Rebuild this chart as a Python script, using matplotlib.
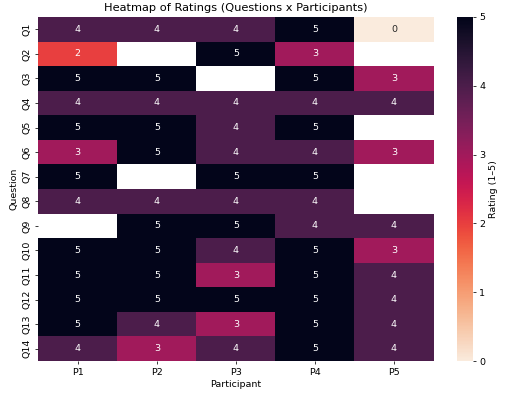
import numpy as np
import pandas as pd
import matplotlib
matplotlib.use("Agg")
import matplotlib.pyplot as plt
import seaborn as sns

questions = [f"Q{i}" for i in range(1, 15)]
participants = ["P1", "P2", "P3", "P4", "P5"]
nan = np.nan
p1 = [4, 2, 5, 4, 5, 3, 5, 4, nan, 5, 5, 5, 5, 4]
p2 = [4, nan, 5, 4, 5, 5, nan, 4, 5, 5, 5, 5, 4, 3]
p3 = [4, 5, nan, 4, 4, 4, 5, 4, 5, 4, 3, 5, 3, 4]
p4 = [5, 3, 5, 4, 5, 4, 5, 4, 4, 5, 5, 5, 5, 5]
p5 = [0, nan, 3, 4, nan, 3, nan, nan, 4, 3, 4, 4, 4, 4]

df = pd.DataFrame({"P1": p1, "P2": p2, "P3": p3, "P4": p4, "P5": p5}, index=questions)

dpi = 68
fig = plt.figure(figsize=(510 / dpi, 395 / dpi), dpi=dpi)
ax = fig.add_axes([0.075, 0.086, 0.775, 0.871])
cax = fig.add_axes([0.896, 0.086, 0.031, 0.871])
sns.heatmap(df, annot=True, fmt=".0f", cmap="rocket_r", vmin=0, vmax=5,
            ax=ax, cbar_ax=cax, cbar_kws={"label": "Rating (1–5)"})
ax.set_title("Heatmap of Ratings (Questions x Participants)", fontsize=12)
ax.set_xlabel("Participant")
ax.set_ylabel("Question")
fig.savefig("out.png", dpi=dpi)
